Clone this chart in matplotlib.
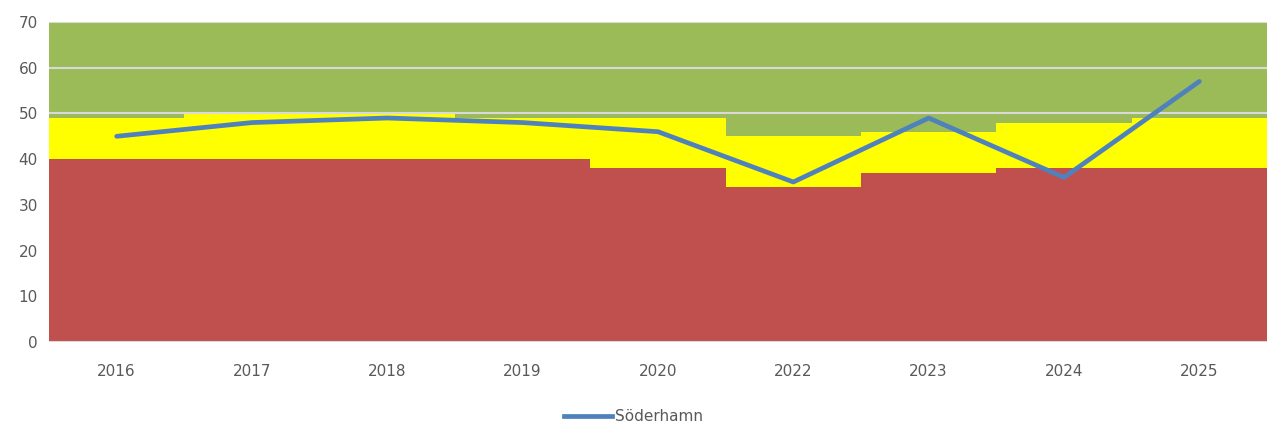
import matplotlib.pyplot as plt
import numpy as np
from matplotlib.lines import Line2D

years = ["2016", "2017", "2018", "2019", "2020", "2022", "2023", "2024", "2025"]
red_top = [40, 40, 40, 40, 38, 34, 37, 38, 38]
yellow_top = [49, 50, 50, 49, 49, 45, 46, 48, 49]
green_top = [70, 70, 70, 70, 70, 70, 70, 70, 70]
soderhamn = [45, 48, 49, 48, 46, 35, 49, 36, 57]

red = np.array(red_top)
yellow = np.array(yellow_top) - red
green = np.array(green_top) - np.array(yellow_top)

fig = plt.figure(figsize=(12.67, 4.25), dpi=100)
ax = fig.add_axes([49 / 1267, 83 / 425, 1 - 49 / 1267, 320 / 425])

x = np.arange(len(years))
ax.bar(x, red, width=1.0, color="#C0504D", zorder=1)
ax.bar(x, yellow, width=1.0, bottom=red, color="#FFFF00", zorder=1)
ax.bar(x, green, width=1.0, bottom=red + yellow, color="#9BBB59", zorder=1)

# gridlines only show over the green band in the original
for g in [50, 60, 70]:
    ax.axhline(g, color="#D9D9D9", lw=1.5, zorder=2)
ax.axhline(0, color="#D9D9D9", lw=1.5, zorder=2)

ax.plot(x, soderhamn, color="#4F81BD", lw=3.4, solid_capstyle="round",
        solid_joinstyle="round", zorder=3)

ax.set_xlim(-0.5, len(years) - 0.5)
ax.set_ylim(0, 70)
ax.set_yticks(range(0, 71, 10))
ax.set_xticks(x)
ax.set_xticklabels(years)
ax.tick_params(axis="both", length=0, labelsize=11, labelcolor="#595959")
ax.tick_params(axis="x", pad=16)
ax.tick_params(axis="y", pad=8)
for s in ax.spines.values():
    s.set_visible(False)

handle = Line2D([], [], color="#4F81BD", lw=3.4)
fig.legend([handle], ["Söderhamn"], loc="lower center", bbox_to_anchor=(0.5, -0.03),
           frameon=False, fontsize=11, labelcolor="#595959", handlelength=3.2,
           handletextpad=0.2)

fig.savefig("out.png", dpi=100)
